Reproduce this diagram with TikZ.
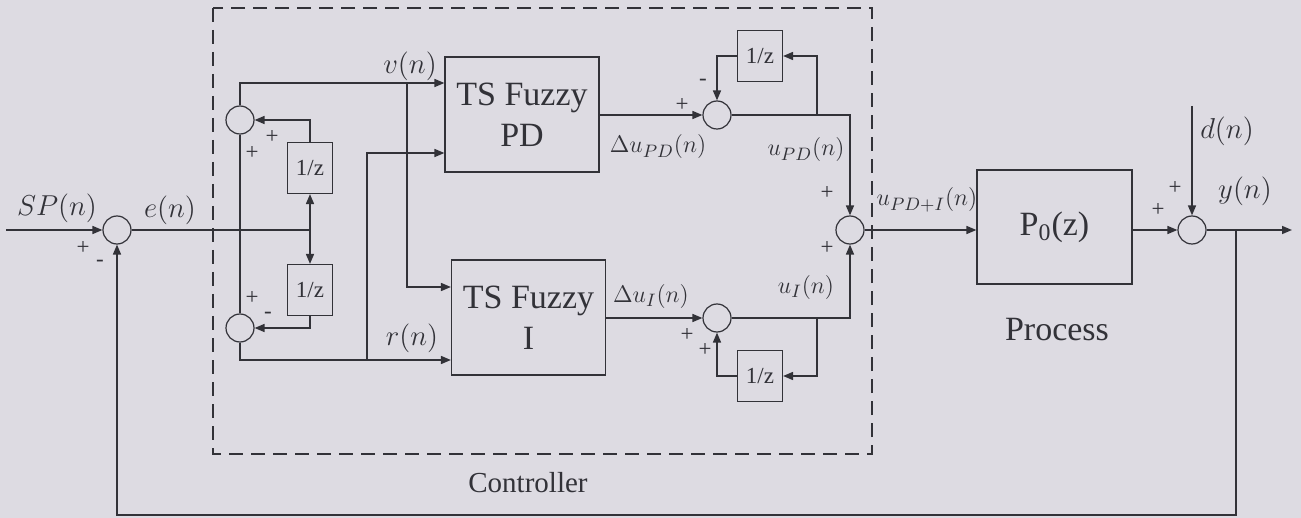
\documentclass[tikz,border=0pt]{standalone}
\usepackage{amsmath}
\usepackage{fontspec}
\setmainfont{Liberation Serif}
\usepackage{tikz}
\usetikzlibrary{arrows.meta,positioning}

\definecolor{paper}{RGB}{221,219,226}
\definecolor{ink}{RGB}{50,50,56}

\tikzset{
	block/.style={draw=ink, line width=0.6pt, inner sep=0pt, align=center},
	delay/.style={block, minimum width=22.5pt, minimum height=25.5pt, font=\fontsize{11.5}{13}\selectfont},
	fuzzy/.style={block, minimum width=77pt, minimum height=57.5pt, font=\fontsize{17}{20.5}\selectfont},
	sumnode/.style={draw=ink, line width=0.6pt, circle, minimum size=14pt, inner sep=0pt},
	sig/.style={font=\fontsize{14.5}{16}\selectfont, inner sep=0pt},
	sigsub/.style={font=\fontsize{12.5}{14}\selectfont, inner sep=0pt},
	sgn/.style={font=\fontsize{11.5}{12}\selectfont, inner sep=0pt},
	>={Triangle[length=5pt,width=4pt]}
}

\begin{document}
\begin{tikzpicture}[x=0.5pt, y=-0.5pt, line width=0.8pt, color=ink]
	\fill [paper] (0,0) rectangle (1301,518);
	\useasboundingbox (0,0) rectangle (1301,518);

	\coordinate (in) at (6,230);
	\node (s1) at (117,230) [sumnode] {};
	\node (sA) at (240,120) [sumnode] {};
	\node (sB) at (240,328) [sumnode] {};
	\node (zA) at (310,168) [delay] {1/z};
	\node (zB) at (310,290) [delay] {1/z};
	\coordinate (jE) at (310,230);
	\node (pd) at (522,114.5) [fuzzy] {TS Fuzzy\\PD};
	\node (fi) at (528.5,317.5) [fuzzy] {TS Fuzzy\\I};
	\node (sC) at (717,115) [sumnode] {};
	\node (sD) at (717,318) [sumnode] {};
	\node (zC) at (760,56) [delay] {1/z};
	\node (zD) at (760,376) [delay] {1/z};
	\node (sE) at (850,230) [sumnode] {};
	\node (plant) at (1054.5,227) [block, minimum width=77.5pt, minimum height=57pt, font=\fontsize{17}{20}\selectfont] {P\textsubscript{0}(z)};
	\node (sF) at (1192,230) [sumnode] {};
	\coordinate (dn) at (1192,106);
	\coordinate (out) at (1292,230);

	\coordinate (bv) at (407,83);
	\coordinate (bi) at (407,287);
	\coordinate (br) at (367,360);
	\coordinate (bp) at (367,153);
	\coordinate (bC) at (817,115);
	\coordinate (bD) at (817,318);
	\coordinate (bF) at (1236,230);
	\coordinate (fb) at (117,515);

	% error path and the two 1/z branches
	\draw [->] (in) -- (s1.west);
	\draw (s1.east) -- (jE);
	\draw [<->] (zA.south) -- (zB.north);
	\draw (sA.south) -- (sB.north);
	\draw [->] (zA.north) |- (sA.east);
	\draw [->] (zB.south) |- (sB.east);

	\draw [->] (sA.north) |- (bv) -- (pd.west |- bv);
	\draw [->] (bv) -- (bi) -- (fi.west |- bi);
	\draw [->] (sB.south) |- (br) -- (fi.west |- br);
	\draw [->] (br) -- (bp) -- (pd.west |- bp);

	% PD and I outputs
	\draw [->] (pd.east |- sC) -- (sC.west);
	\draw [->] (sC.east) -- (bC) -| (sE.north);
	\draw [->] (bC) |- (zC.east);
	\draw [->] (zC.west) -| (sC.north);
	\draw [->] (fi.east |- sD) -- (sD.west);
	\draw [->] (sD.east) -- (bD) -| (sE.south);
	\draw [->] (bD) |- (zD.east);
	\draw [->] (zD.west) -| (sD.south);

	% process and feedback
	\draw [->] (sE.east) -- (plant.west |- sE);
	\draw [->] (plant.east |- sF) -- (sF.west);
	\draw [->] (dn) -- (sF.north);
	\draw [->] (sF.east) -- (out);
	\draw [->] (bF) |- (fb) -- (s1.south);

	\draw [line width=0.7pt, dash pattern=on 7pt off 4pt] (213,8) rectangle (872,454);

	\node (lsp) at (57,208) [sig] {$SP(n)$};
	\node (le) at (170,210) [sig] {$e(n)$};
	\node (lv) at (410,66) [sig] {$v(n)$};
	\node (lr) at (412,338) [sig] {$r(n)$};
	\node (ldpd) at (658,147) [sigsub] {$\Delta u_{PD}(n)$};
	\node (lupd) at (806,150) [sigsub] {$u_{PD}(n)$};
	\node (ldi) at (651,296) [sigsub] {$\Delta u_{I}(n)$};
	\node (lui) at (806,287) [sigsub] {$u_{I}(n)$};
	\node (lupi) at (927,200) [sigsub] {$u_{PD+I}(n)$};
	\node (ld) at (1227,131) [sig] {$d(n)$};
	\node (ly) at (1245,191) [sig] {$y(n)$};
	\node (lproc) at (1057,330) [font=\fontsize{17}{20}\selectfont] {Process};
	\node (lctrl) at (528,483) [font=\fontsize{14.5}{17}\selectfont] {Controller};

	\node (p1) at (83,248) [sgn] {+};
	\node (m1) at (100,263) [sgn] {-};
	\node (pA1) at (252,153) [sgn] {+};
	\node (pA2) at (272,137) [sgn] {+};
	\node (pB1) at (252,298) [sgn] {+};
	\node (mB) at (268,315) [sgn] {-};
	\node (pC) at (682,105) [sgn] {+};
	\node (mC) at (703,82) [sgn] {-};
	\node (pD1) at (687,335) [sgn] {+};
	\node (pD2) at (705,350) [sgn] {+};
	\node (pE1) at (827,193) [sgn] {+};
	\node (pE2) at (827,248) [sgn] {+};
	\node (pF1) at (1158,210) [sgn] {+};
	\node (pF2) at (1175,188) [sgn] {+};
\end{tikzpicture}
\end{document}
